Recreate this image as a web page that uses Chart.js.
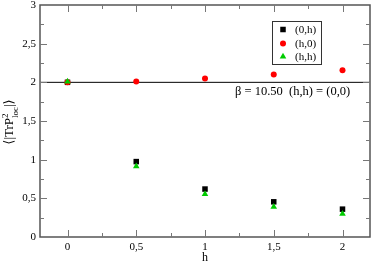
<!DOCTYPE html>
<html>
<head>
<meta charset="utf-8">
<script src="https://cdn.jsdelivr.net/npm/chart.js@4.4.1/dist/chart.umd.min.js"></script>
<style>
  html, body { margin: 0; padding: 0; background: #fff; }
  #wrap { width: 374px; height: 263px; }
</style>
</head>
<body>
<div id="wrap"><canvas id="plot" width="374" height="263"></canvas></div>
<script>
// --- DATA ---
const H_VALUES = [0, 0.5, 1, 1.5, 2];
const SERIES_0H = [2.00, 0.975, 0.62, 0.455, 0.36];
const SERIES_H0 = [2.00, 2.01, 2.05, 2.10, 2.155];
const SERIES_HH = [2.01, 0.915, 0.555, 0.39, 0.30];
const REF_LINE_X = [-0.2, 2.2];
const REF_LINE_Y = [2, 2];
const X_TICKS = [0, 0.5, 1, 1.5, 2];
const Y_TICKS = [0, 0.5, 1, 1.5, 2, 2.5, 3];
const LEGEND_LABELS = ['(0,h)', '(h,0)', '(h,h)'];
const NOTE_TEXT = 'β = 10.50  (h,h) = (0,0)';

const FONT = '"Liberation Serif", "DejaVu Serif", serif';

function toPoints(xs, ys) {
  return xs.map((x, i) => ({ x: x, y: ys[i] }));
}

function fmt(v) {
  return String(v).replace('.', ',');
}

// --- FRAME, INWARD TICKS, LEGEND, LABELS ---
const decorPlugin = {
  id: 'decor',
  afterDraw(chart) {
    const ctx = chart.ctx;
    const a = chart.chartArea;
    const xs = chart.scales.x;
    const ys = chart.scales.y;

    ctx.save();
    // frame
    ctx.strokeStyle = '#555';
    ctx.lineWidth = 1.5;
    ctx.strokeRect(a.left, a.top, a.right - a.left, a.bottom - a.top);

    // ticks (major every 0.5, minor every 0.25)
    ctx.lineWidth = 1;
    ctx.strokeStyle = '#777';
    ctx.beginPath();
    for (let v = 0; v <= 2.0001; v += 0.25) {
      const px = Math.round(xs.getPixelForValue(v)) + 0.5;
      const len = (Math.abs(v * 2 - Math.round(v * 2)) < 0.001) ? 7 : 4;
      ctx.moveTo(px, a.bottom); ctx.lineTo(px, a.bottom - len);
      ctx.moveTo(px, a.top); ctx.lineTo(px, a.top + len);
    }
    for (let v = 0.25; v < 3; v += 0.25) {
      const py = Math.round(ys.getPixelForValue(v)) + 0.5;
      const len = (Math.abs(v * 2 - Math.round(v * 2)) < 0.001) ? 7 : 4;
      ctx.moveTo(a.left, py); ctx.lineTo(a.left + len, py);
      ctx.moveTo(a.right, py); ctx.lineTo(a.right - len, py);
    }
    ctx.stroke();

    // y-axis title: <|TrP^2_loc|>
    ctx.fillStyle = '#000';
    ctx.translate(9, (a.top + a.bottom) / 2 + 1);
    ctx.rotate(-Math.PI / 2);
    ctx.textBaseline = 'alphabetic';
    ctx.textAlign = 'left';
    const p1 = '⟨|TrP';
    const p3 = '|⟩';
    ctx.font = '9px ' + FONT;
    const wSub = ctx.measureText('loc').width;
    ctx.font = '13px ' + FONT;
    const w1 = ctx.measureText(p1).width;
    const w3 = ctx.measureText(p3).width;
    const x0 = -(w1 + wSub + w3) / 2;
    ctx.fillText(p1, x0, 4);
    ctx.font = '9px ' + FONT;
    ctx.fillText('2', x0 + w1, -1.5);
    ctx.fillText('loc', x0 + w1, 8.5);
    ctx.font = '13px ' + FONT;
    ctx.fillText(p3, x0 + w1 + wSub, 4);
    ctx.restore();

    // x-axis title
    ctx.save();
    ctx.fillStyle = '#000';
    ctx.font = '12px ' + FONT;
    ctx.textAlign = 'center';
    ctx.textBaseline = 'alphabetic';
    ctx.fillText('h', (a.left + a.right) / 2, 261);

    // legend box
    ctx.strokeStyle = '#333';
    ctx.lineWidth = 1;
    ctx.strokeRect(272.5, 21.5, 49, 43);
    const styles = chart.data.datasets.slice(0, 3);
    const rowsY = [29.5, 43.5, 56.5];
    ctx.font = '11px ' + FONT;
    ctx.textBaseline = 'middle';
    ctx.textAlign = 'left';
    styles.forEach((ds, i) => {
      ctx.fillStyle = ds.backgroundColor;
      ctx.strokeStyle = ds.backgroundColor;
      Chart.helpers.drawPoint(ctx, {
        pointStyle: ds.pointStyle,
        radius: ds.pointRadius,
        borderWidth: 0
      }, 283, rowsY[i]);
      ctx.fillStyle = '#000';
      ctx.fillText(LEGEND_LABELS[i], 295, rowsY[i] + 1);
    });

    // annotation
    ctx.font = '12.5px ' + FONT;
    ctx.textBaseline = 'middle';
    ctx.fillText(NOTE_TEXT, 235, 92);
    ctx.restore();
  }
};

const chart = new Chart(document.getElementById('plot'), {
  type: 'scatter',
  data: {
    datasets: [
      {
        label: LEGEND_LABELS[0],
        data: toPoints(H_VALUES, SERIES_0H),
        pointStyle: 'rect',
        pointRadius: 3.9,
        backgroundColor: '#000',
        borderColor: '#000',
        borderWidth: 0,
        order: 3
      },
      {
        label: LEGEND_LABELS[1],
        data: toPoints(H_VALUES, SERIES_H0),
        pointStyle: 'circle',
        pointRadius: 3,
        backgroundColor: '#ff0000',
        borderColor: '#ff0000',
        borderWidth: 0,
        order: 2
      },
      {
        label: LEGEND_LABELS[2],
        data: toPoints(H_VALUES, SERIES_HH),
        pointStyle: 'triangle',
        pointRadius: 3.8,
        backgroundColor: '#00cc00',
        borderColor: '#00cc00',
        borderWidth: 0,
        order: 1
      },
      {
        label: 'ref',
        data: toPoints(REF_LINE_X, REF_LINE_Y),
        showLine: true,
        pointRadius: 0,
        borderColor: '#000',
        borderWidth: 1,
        order: 10
      }
    ]
  },
  options: {
    responsive: false,
    animation: false,
    events: [],
    layout: { padding: { top: 5, right: 2, left: 0, bottom: 0 } },
    plugins: {
      legend: { display: false },
      tooltip: { enabled: false }
    },
    scales: {
      x: {
        type: 'linear',
        min: -0.2,
        max: 2.2,
        afterBuildTicks: (s) => { s.ticks = X_TICKS.map(v => ({ value: v })); },
        afterFit: (s) => { s.height = 26; s.paddingLeft = 0; s.paddingRight = 0; },
        grid: { display: false, drawTicks: false, tickLength: 0 },
        border: { display: false },
        ticks: {
          padding: 4,
          color: '#000',
          font: { family: FONT, size: 11 },
          callback: (v) => fmt(v)
        }
      },
      y: {
        type: 'linear',
        min: 0,
        max: 3,
        afterBuildTicks: (s) => { s.ticks = Y_TICKS.map(v => ({ value: v })); },
        afterFit: (s) => { s.width = 40; s.paddingTop = 0; s.paddingBottom = 0; },
        grid: { display: false, drawTicks: false, tickLength: 0 },
        border: { display: false },
        ticks: {
          padding: 4,
          color: '#000',
          font: { family: FONT, size: 11 },
          callback: (v) => fmt(v)
        }
      }
    }
  },
  plugins: [decorPlugin]
});
</script>
</body>
</html>
